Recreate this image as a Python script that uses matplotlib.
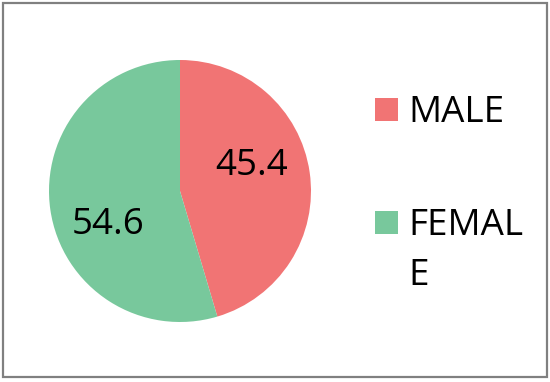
import textwrap
import numpy as np
import matplotlib
matplotlib.use("Agg")
import matplotlib.pyplot as plt
from matplotlib.patches import Rectangle

categories = ["MALE", "FEMALE"]
values = [45.4, 54.6]
colors = ["#F17474", "#78C89C"]

W, H = 550, 382
fig = plt.figure(figsize=(W / 100, H / 100), dpi=100)
fig.patch.set_facecolor("white")

def fx(px):
    return px / W

def fy(py):
    return 1 - py / H

# figure border
fig.add_artist(Rectangle((fx(3), fy(377)), fx(544), 374 / H, transform=fig.transFigure,
                         fill=False, edgecolor="#808080", linewidth=1.6))

cx, cy, r = 180, 191, 131
ax = fig.add_axes([fx(cx - r), fy(cy + r), 2 * r / W, 2 * r / H])
wedges, _ = ax.pie(values, colors=colors, startangle=90, counterclock=False,
                   radius=1, wedgeprops=dict(linewidth=0))
ax.set_xlim(-1, 1)
ax.set_ylim(-1, 1)
ax.set_aspect("equal")
ax.axis("off")

font = "Open Sans"
fs = 26.5
for w, v in zip(wedges, values):
    mid = np.deg2rad((w.theta1 + w.theta2) / 2 + 14)
    ax.text(0.59 * np.cos(mid), 0.59 * np.sin(mid) - 0.035, f"{v}", ha="center", va="center",
            fontsize=fs, family=font, color="black")

# legend
sq = 23
line_h = 50
ys = [98, 211]
for cat, col, y0 in zip(categories, colors, ys):
    fig.add_artist(Rectangle((fx(375), fy(y0 + sq)), sq / W, sq / H, transform=fig.transFigure,
                             facecolor=col, edgecolor="none"))
    for i, line in enumerate(textwrap.wrap(cat, 5)):
        fig.text(fx(408), fy(y0 + 24 + i * line_h), line, ha="left", va="baseline",
                 fontsize=fs, family=font, color="black")

fig.savefig("out.png", dpi=100, facecolor="white")
